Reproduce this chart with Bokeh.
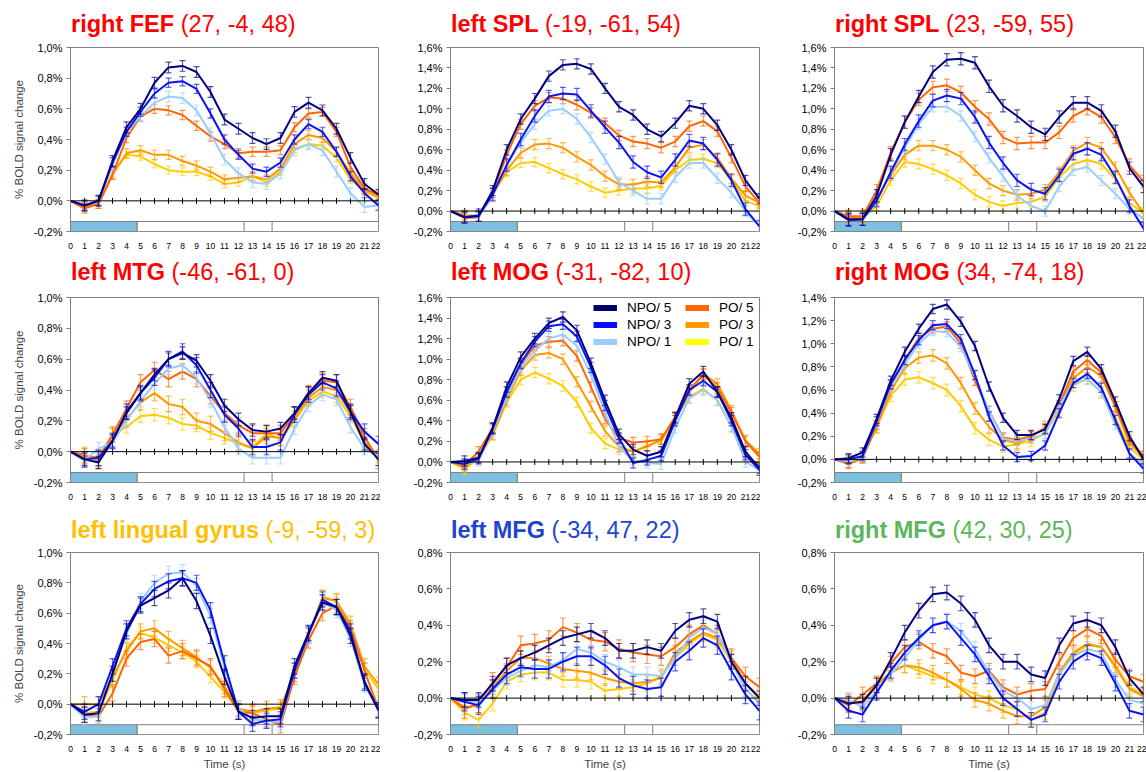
from math import pi

from bokeh.embed import file_html
from bokeh.layouts import column, row
from bokeh.models import (CustomJSTickFormatter, Div, FixedTicker, Legend,
                          LegendItem, Range1d, Span)
from bokeh.plotting import figure
from bokeh.resources import INLINE

# ---------------------------------------------------------------- data
TIME = list(range(23))                       # seconds after trial onset
SERIES = ["NPO/ 5", "NPO/ 3", "NPO/ 1", "PO/ 5", "PO/ 3", "PO/ 1"]
STIM_END = 4.75                              # end of the stimulus period
EPOCH_MARKS = [12.4, 14.4]                   # epoch boundaries on the timing bar

# right FEF
r_fef_npo5 = [0, -0.03, 0.00, 0.26, 0.48, 0.60, 0.77, 0.87, 0.88, 0.84, 0.71, 0.53, 0.47, 0.41, 0.37, 0.41, 0.58, 0.64, 0.59, 0.47, 0.28, 0.11, 0.04]
r_fef_npo3 = [0, -0.03, 0.00, 0.25, 0.45, 0.58, 0.70, 0.77, 0.78, 0.73, 0.57, 0.40, 0.30, 0.21, 0.19, 0.25, 0.40, 0.50, 0.45, 0.32, 0.16, 0.05, -0.03]
r_fef_npo1 = [0, -0.03, 0.00, 0.23, 0.45, 0.55, 0.64, 0.68, 0.67, 0.59, 0.44, 0.27, 0.18, 0.12, 0.11, 0.18, 0.33, 0.37, 0.33, 0.19, 0.05, -0.04, -0.03]
r_fef_po5 = [0, -0.05, -0.02, 0.17, 0.41, 0.55, 0.60, 0.59, 0.56, 0.49, 0.42, 0.37, 0.31, 0.32, 0.32, 0.33, 0.48, 0.57, 0.58, 0.45, 0.22, 0.08, 0.04]
r_fef_po3 = [0, -0.04, -0.02, 0.17, 0.31, 0.33, 0.30, 0.30, 0.26, 0.23, 0.19, 0.14, 0.15, 0.16, 0.14, 0.21, 0.37, 0.43, 0.41, 0.32, 0.18, 0.07, 0.03]
r_fef_po1 = [0, -0.04, -0.02, 0.18, 0.30, 0.29, 0.24, 0.20, 0.19, 0.19, 0.16, 0.11, 0.12, 0.16, 0.12, 0.19, 0.34, 0.37, 0.36, 0.28, 0.14, 0.06, 0.02]
r_fef_err = [0.035, 0.03, 0.035, 0.03, 0.03, 0.025]

# left SPL
l_spl_npo5 = [0, -0.06, -0.05, 0.20, 0.60, 0.90, 1.10, 1.32, 1.43, 1.44, 1.39, 1.20, 1.02, 0.94, 0.80, 0.73, 0.86, 1.03, 1.00, 0.84, 0.60, 0.30, 0.12]
l_spl_npo3 = [0, -0.06, -0.04, 0.16, 0.45, 0.70, 0.93, 1.12, 1.15, 1.14, 0.98, 0.82, 0.67, 0.48, 0.38, 0.33, 0.50, 0.69, 0.66, 0.50, 0.30, 0.02, -0.15]
l_spl_npo1 = [0, -0.06, -0.06, 0.15, 0.45, 0.67, 0.85, 0.98, 1.00, 0.90, 0.72, 0.51, 0.28, 0.20, 0.12, 0.12, 0.33, 0.47, 0.47, 0.32, 0.18, 0.00, -0.15]
l_spl_po5 = [0, -0.07, -0.06, 0.18, 0.55, 0.85, 1.03, 1.11, 1.10, 1.04, 0.96, 0.86, 0.74, 0.68, 0.66, 0.62, 0.68, 0.83, 0.88, 0.78, 0.52, 0.24, 0.08]
l_spl_po3 = [0, -0.04, -0.05, 0.18, 0.40, 0.57, 0.65, 0.66, 0.62, 0.53, 0.45, 0.34, 0.26, 0.26, 0.29, 0.28, 0.43, 0.62, 0.65, 0.52, 0.32, 0.15, 0.08]
l_spl_po1 = [0, -0.04, -0.06, 0.16, 0.38, 0.47, 0.48, 0.42, 0.36, 0.31, 0.24, 0.18, 0.20, 0.22, 0.22, 0.25, 0.40, 0.50, 0.51, 0.47, 0.30, 0.10, 0.05]
l_spl_err = [0.05, 0.06, 0.05, 0.05, 0.05, 0.045]

# right SPL
r_spl_npo5 = [0, -0.08, -0.08, 0.15, 0.55, 0.87, 1.12, 1.36, 1.48, 1.49, 1.45, 1.22, 1.03, 0.93, 0.82, 0.75, 0.92, 1.06, 1.06, 0.98, 0.78, 0.42, 0.24]
r_spl_npo3 = [0, -0.09, -0.08, 0.10, 0.38, 0.65, 0.88, 1.08, 1.13, 1.10, 0.92, 0.67, 0.47, 0.30, 0.21, 0.17, 0.35, 0.56, 0.61, 0.55, 0.33, 0.05, -0.17]
r_spl_npo1 = [0, -0.08, -0.09, 0.10, 0.37, 0.62, 0.85, 1.02, 1.02, 0.93, 0.73, 0.52, 0.34, 0.15, 0.05, 0.00, 0.24, 0.40, 0.43, 0.30, 0.17, 0.02, -0.07]
r_spl_po5 = [0, -0.05, -0.05, 0.20, 0.57, 0.87, 1.09, 1.21, 1.23, 1.16, 1.02, 0.90, 0.72, 0.66, 0.67, 0.67, 0.77, 0.93, 1.00, 0.92, 0.72, 0.45, 0.29]
r_spl_po3 = [0, -0.06, -0.08, 0.12, 0.35, 0.55, 0.64, 0.64, 0.60, 0.53, 0.40, 0.27, 0.20, 0.16, 0.17, 0.21, 0.38, 0.59, 0.67, 0.62, 0.43, 0.18, -0.02]
r_spl_po1 = [0, -0.06, -0.07, 0.05, 0.30, 0.48, 0.46, 0.41, 0.35, 0.27, 0.16, 0.09, 0.05, 0.08, 0.09, 0.14, 0.33, 0.46, 0.50, 0.46, 0.31, 0.08, -0.02]
r_spl_err = [0.06, 0.06, 0.05, 0.06, 0.05, 0.05]

# left MTG
l_mtg_npo5 = [0, -0.05, -0.07, 0.07, 0.25, 0.38, 0.50, 0.60, 0.64, 0.59, 0.46, 0.30, 0.21, 0.14, 0.13, 0.15, 0.25, 0.38, 0.48, 0.46, 0.26, 0.05, -0.05]
l_mtg_npo3 = [0, -0.05, -0.04, 0.07, 0.26, 0.38, 0.48, 0.60, 0.65, 0.56, 0.40, 0.24, 0.15, 0.03, 0.03, 0.06, 0.24, 0.37, 0.45, 0.41, 0.26, 0.13, 0.05]
l_mtg_npo1 = [0, -0.06, 0.02, 0.06, 0.20, 0.33, 0.44, 0.54, 0.56, 0.48, 0.33, 0.16, 0.02, -0.04, -0.04, -0.04, 0.15, 0.30, 0.37, 0.34, 0.16, 0.02, -0.03]
l_mtg_po5 = [0, -0.03, -0.04, 0.11, 0.28, 0.45, 0.53, 0.47, 0.52, 0.47, 0.36, 0.25, 0.17, 0.12, 0.12, 0.12, 0.24, 0.38, 0.46, 0.45, 0.29, 0.10, -0.06]
l_mtg_po3 = [0, -0.02, -0.06, 0.11, 0.21, 0.32, 0.38, 0.31, 0.29, 0.20, 0.18, 0.12, 0.06, 0.02, 0.10, 0.09, 0.21, 0.35, 0.42, 0.40, 0.25, 0.08, -0.04]
l_mtg_po1 = [0, -0.04, -0.06, 0.11, 0.16, 0.23, 0.24, 0.22, 0.18, 0.17, 0.12, 0.09, 0.05, 0.03, 0.12, 0.08, 0.20, 0.33, 0.39, 0.36, 0.23, 0.06, -0.04]
l_mtg_err = [0.04, 0.05, 0.04, 0.05, 0.05, 0.04]

# left MOG
l_mog_npo5 = [0, 0.01, 0.04, 0.33, 0.73, 1.02, 1.20, 1.35, 1.41, 1.28, 0.96, 0.60, 0.27, 0.12, 0.06, 0.10, 0.43, 0.76, 0.88, 0.68, 0.43, 0.10, -0.06]
l_mog_npo3 = [0, -0.02, 0.03, 0.32, 0.68, 0.96, 1.17, 1.32, 1.34, 1.22, 0.92, 0.55, 0.23, -0.01, 0.02, 0.06, 0.40, 0.70, 0.79, 0.68, 0.40, 0.07, -0.08]
l_mog_npo1 = [0, -0.02, 0.01, 0.30, 0.63, 0.92, 1.08, 1.20, 1.24, 1.13, 0.85, 0.48, 0.14, 0.02, -0.01, -0.02, 0.33, 0.62, 0.70, 0.60, 0.35, 0.00, -0.08]
l_mog_po5 = [0, -0.03, 0.10, 0.33, 0.68, 0.95, 1.13, 1.17, 1.18, 1.03, 0.73, 0.42, 0.23, 0.19, 0.20, 0.22, 0.44, 0.70, 0.85, 0.72, 0.48, 0.20, 0.05]
l_mog_po3 = [0, -0.05, 0.05, 0.27, 0.60, 0.89, 1.04, 1.06, 1.00, 0.78, 0.54, 0.30, 0.15, 0.10, 0.15, 0.22, 0.42, 0.68, 0.86, 0.76, 0.50, 0.21, 0.08]
l_mog_po1 = [0, -0.07, 0.03, 0.26, 0.58, 0.80, 0.87, 0.81, 0.74, 0.58, 0.33, 0.18, 0.12, 0.10, 0.16, 0.20, 0.43, 0.63, 0.71, 0.60, 0.34, 0.05, -0.02]
l_mog_err = [0.05, 0.05, 0.05, 0.05, 0.05, 0.05]

# right MOG
r_mog_npo5 = [0, 0.01, 0.06, 0.35, 0.68, 0.93, 1.13, 1.30, 1.34, 1.19, 0.98, 0.63, 0.36, 0.21, 0.21, 0.26, 0.52, 0.85, 0.93, 0.78, 0.50, 0.20, 0.00]
r_mog_npo3 = [0, 0.00, 0.03, 0.33, 0.65, 0.86, 1.03, 1.16, 1.17, 1.04, 0.73, 0.37, 0.12, 0.02, 0.03, 0.12, 0.40, 0.66, 0.74, 0.62, 0.34, 0.05, -0.08]
r_mog_npo1 = [0, -0.02, 0.02, 0.32, 0.63, 0.82, 1.00, 1.11, 1.10, 0.97, 0.72, 0.42, 0.18, 0.16, 0.18, 0.22, 0.46, 0.66, 0.69, 0.58, 0.30, 0.05, -0.04]
r_mog_po5 = [0, -0.04, 0.01, 0.30, 0.64, 0.86, 1.05, 1.13, 1.15, 1.00, 0.68, 0.42, 0.19, 0.17, 0.20, 0.27, 0.47, 0.76, 0.86, 0.75, 0.46, 0.17, 0.03]
r_mog_po3 = [0, -0.02, 0.02, 0.28, 0.59, 0.79, 0.88, 0.90, 0.83, 0.66, 0.44, 0.28, 0.17, 0.14, 0.19, 0.28, 0.45, 0.70, 0.80, 0.72, 0.45, 0.14, 0.02]
r_mog_po1 = [0, -0.02, 0.02, 0.28, 0.55, 0.69, 0.71, 0.66, 0.60, 0.46, 0.27, 0.17, 0.11, 0.13, 0.16, 0.23, 0.42, 0.64, 0.70, 0.58, 0.36, 0.10, 0.00]
r_mog_err = [0.04, 0.04, 0.04, 0.04, 0.05, 0.05]

# left lingual gyrus
l_lg_npo5 = [0, -0.07, -0.06, 0.20, 0.48, 0.65, 0.70, 0.75, 0.83, 0.68, 0.45, 0.18, -0.05, -0.09, -0.08, -0.08, 0.25, 0.47, 0.67, 0.64, 0.45, 0.15, -0.04]
l_lg_npo3 = [0, -0.05, 0.00, 0.25, 0.50, 0.66, 0.76, 0.81, 0.83, 0.80, 0.62, 0.27, -0.05, -0.13, -0.11, -0.10, 0.22, 0.46, 0.69, 0.64, 0.48, 0.14, -0.04]
l_lg_npo1 = [0, -0.09, -0.08, 0.20, 0.46, 0.68, 0.80, 0.86, 0.87, 0.78, 0.58, 0.24, -0.03, -0.10, -0.11, -0.12, 0.22, 0.45, 0.67, 0.62, 0.43, 0.13, -0.03]
l_lg_po5 = [0, -0.07, -0.08, 0.07, 0.30, 0.41, 0.43, 0.32, 0.35, 0.30, 0.25, 0.10, -0.05, -0.06, -0.10, -0.14, 0.18, 0.42, 0.60, 0.65, 0.50, 0.22, -0.03]
l_lg_po3 = [0, 0.00, 0.00, 0.18, 0.35, 0.48, 0.50, 0.43, 0.37, 0.31, 0.24, 0.12, -0.03, -0.05, -0.03, -0.02, 0.20, 0.45, 0.70, 0.68, 0.53, 0.25, 0.13]
l_lg_po1 = [0, -0.06, -0.05, 0.15, 0.37, 0.47, 0.44, 0.39, 0.34, 0.28, 0.18, 0.08, -0.04, -0.06, -0.04, -0.03, 0.21, 0.46, 0.71, 0.68, 0.50, 0.23, 0.10]
l_lg_err = [0.05, 0.05, 0.05, 0.05, 0.05, 0.04]

# left MFG
l_mfg_npo5 = [0, -0.01, -0.01, 0.08, 0.18, 0.22, 0.25, 0.29, 0.33, 0.35, 0.37, 0.33, 0.26, 0.26, 0.28, 0.26, 0.37, 0.43, 0.45, 0.42, 0.20, 0.08, 0.00]
l_mfg_npo3 = [0, -0.02, -0.04, 0.05, 0.13, 0.17, 0.16, 0.16, 0.20, 0.23, 0.23, 0.18, 0.11, 0.07, 0.05, 0.06, 0.20, 0.26, 0.33, 0.29, 0.15, 0.02, -0.07]
l_mfg_npo1 = [0, -0.02, -0.02, 0.04, 0.11, 0.15, 0.18, 0.17, 0.21, 0.27, 0.25, 0.20, 0.17, 0.13, 0.13, 0.12, 0.22, 0.33, 0.39, 0.35, 0.20, 0.05, -0.03]
l_mfg_po5 = [0, -0.06, -0.03, 0.09, 0.17, 0.29, 0.30, 0.32, 0.39, 0.36, 0.32, 0.31, 0.27, 0.25, 0.24, 0.23, 0.28, 0.35, 0.40, 0.35, 0.22, 0.12, 0.06]
l_mfg_po3 = [0, -0.05, -0.04, 0.06, 0.15, 0.22, 0.22, 0.19, 0.16, 0.15, 0.14, 0.11, 0.09, 0.08, 0.09, 0.11, 0.25, 0.31, 0.36, 0.33, 0.22, 0.08, 0.01]
l_mfg_po1 = [0, -0.08, -0.12, -0.03, 0.09, 0.13, 0.14, 0.14, 0.10, 0.10, 0.09, 0.04, 0.05, 0.06, 0.08, 0.12, 0.22, 0.30, 0.35, 0.32, 0.20, 0.05, -0.02]
l_mfg_err = [0.04, 0.05, 0.04, 0.05, 0.04, 0.04]

# right MFG
r_mfg_npo5 = [0, -0.03, -0.02, 0.07, 0.21, 0.36, 0.48, 0.57, 0.58, 0.52, 0.43, 0.29, 0.20, 0.20, 0.13, 0.11, 0.29, 0.41, 0.43, 0.40, 0.28, 0.11, 0.02]
r_mfg_npo3 = [0, -0.07, -0.09, 0.03, 0.15, 0.25, 0.33, 0.40, 0.42, 0.33, 0.24, 0.12, 0.00, -0.06, -0.12, -0.09, 0.09, 0.20, 0.25, 0.22, 0.08, -0.07, -0.09]
r_mfg_npo1 = [0, -0.01, -0.05, 0.04, 0.13, 0.22, 0.32, 0.40, 0.42, 0.37, 0.27, 0.14, 0.04, 0.00, -0.06, -0.04, 0.13, 0.23, 0.27, 0.25, 0.10, -0.01, -0.03]
r_mfg_po5 = [0, -0.04, 0.02, 0.08, 0.19, 0.28, 0.31, 0.26, 0.23, 0.14, 0.12, 0.15, 0.06, 0.02, 0.04, 0.05, 0.20, 0.33, 0.38, 0.34, 0.21, 0.12, 0.09]
r_mfg_po3 = [0, -0.02, -0.03, 0.07, 0.14, 0.18, 0.17, 0.14, 0.10, 0.05, -0.01, -0.03, -0.07, -0.10, -0.10, -0.05, 0.14, 0.25, 0.30, 0.28, 0.17, 0.05, 0.01]
r_mfg_po1 = [0, -0.02, -0.02, 0.08, 0.14, 0.18, 0.15, 0.12, 0.10, 0.06, 0.02, 0.00, -0.04, -0.06, -0.12, -0.08, 0.13, 0.24, 0.29, 0.28, 0.18, 0.06, 0.02]
r_mfg_err = [0.04, 0.04, 0.04, 0.04, 0.04, 0.04]

# ---------------------------------------------------------------- styling
FONT = "Liberation Sans"
LINE_COLORS = ["#000080", "#0A14F0", "#99CCFF", "#FF6600", "#FF9900", "#FFCC00"]
KEY_COLORS = ["#000070", "#0A0AFF", "#99CCFF", "#FF6600", "#FF9900", "#FFFF00"]
RED, GOLD, BLUE, GREEN = "#FF0000", "#FFC000", "#1F45D0", "#5DB55D"
GRAY = "#808080"
BAR_BLUE = "#7DBFDF"

PANELS = [
    ("right FEF", "(27, -4, 48)", RED, 1.0,
     [r_fef_npo5, r_fef_npo3, r_fef_npo1, r_fef_po5, r_fef_po3, r_fef_po1], r_fef_err),
    ("left SPL", "(-19, -61, 54)", RED, 1.6,
     [l_spl_npo5, l_spl_npo3, l_spl_npo1, l_spl_po5, l_spl_po3, l_spl_po1], l_spl_err),
    ("right SPL", "(23, -59, 55)", RED, 1.6,
     [r_spl_npo5, r_spl_npo3, r_spl_npo1, r_spl_po5, r_spl_po3, r_spl_po1], r_spl_err),
    ("left MTG", "(-46, -61, 0)", RED, 1.0,
     [l_mtg_npo5, l_mtg_npo3, l_mtg_npo1, l_mtg_po5, l_mtg_po3, l_mtg_po1], l_mtg_err),
    ("left MOG", "(-31, -82, 10)", RED, 1.6,
     [l_mog_npo5, l_mog_npo3, l_mog_npo1, l_mog_po5, l_mog_po3, l_mog_po1], l_mog_err),
    ("right MOG", "(34, -74, 18)", RED, 1.4,
     [r_mog_npo5, r_mog_npo3, r_mog_npo1, r_mog_po5, r_mog_po3, r_mog_po1], r_mog_err),
    ("left lingual gyrus", "(-9, -59, 3)", GOLD, 1.0,
     [l_lg_npo5, l_lg_npo3, l_lg_npo1, l_lg_po5, l_lg_po3, l_lg_po1], l_lg_err),
    ("left MFG", "(-34, 47, 22)", BLUE, 0.8,
     [l_mfg_npo5, l_mfg_npo3, l_mfg_npo1, l_mfg_po5, l_mfg_po3, l_mfg_po1], l_mfg_err),
    ("right MFG", "(42, 30, 25)", GREEN, 0.8,
     [r_mfg_npo5, r_mfg_npo3, r_mfg_npo1, r_mfg_po5, r_mfg_po3, r_mfg_po1], r_mfg_err),
]

# grid geometry (outer size and borders around each plot frame)
COL_W = [380, 380, 386]
COL_LEFT = [70, 70, 74]
COL_RIGHT = [2, 1, 3]
ROW_H = [255, 255, 262]
ROW_TOP = [47, 42, 42]
ROW_BOTTOM = [24, 28, 34]
TITLE_GAP = [14.5, 16, 13]       # title baseline height above the frame
PLOT_TOP = 8                     # room kept above the frame for the top tick label
TITLE_SIZE = 23.5
TITLE_LINE = 27
BAR_PX = 10

PCT = CustomJSTickFormatter(code="return tick.toFixed(1).replace('.', ',') + '%';")


def make_title(idx):
    name, coords, tcolor = PANELS[idx][:3]
    r, c = divmod(idx, 3)
    h = ROW_TOP[r] - PLOT_TOP
    # baseline sits ascent + half-leading below the top of the line box
    ascent = 0.905 * TITLE_SIZE + (TITLE_LINE - 1.117 * TITLE_SIZE) / 2
    pad_top = (ROW_TOP[r] - TITLE_GAP[r]) - ascent
    html = (f'<div style="margin:0; padding:{pad_top:.1f}px 0 0 {COL_LEFT[c] + 1}px; '
            f'font-family:\'{FONT}\'; font-size:{TITLE_SIZE}px; line-height:{TITLE_LINE}px; '
            f'color:{tcolor}; white-space:nowrap;">'
            f'<span style="font-weight:bold">{name}</span> {coords}</div>')
    return Div(text=html, width=COL_W[c], height=h, margin=0)


def make_panel(idx):
    name, coords, tcolor, ymax, series, err = PANELS[idx]
    r, c = divmod(idx, 3)
    W = COL_W[c]
    H = ROW_H[r] - ROW_TOP[r] + PLOT_TOP
    frame_h = H - PLOT_TOP - ROW_BOTTOM[r]
    ymin = -0.2

    p = figure(width=W, height=H, output_backend="svg", toolbar_location=None,
               x_range=Range1d(0, 22), y_range=Range1d(ymin, ymax),
               min_border_left=COL_LEFT[c], min_border_right=COL_RIGHT[c],
               min_border_top=PLOT_TOP, min_border_bottom=ROW_BOTTOM[r], margin=0)
    p.title.visible = False
    p.xgrid.visible = False
    p.ygrid.visible = False
    p.background_fill_color = "white"
    p.border_fill_color = "white"
    p.outline_line_color = GRAY

    # axes
    p.xaxis.ticker = FixedTicker(ticks=TIME)
    p.xaxis.axis_line_color = None
    p.xaxis.major_tick_line_color = None
    p.xaxis.minor_tick_line_color = None
    p.xaxis.major_label_standoff = 5
    p.xaxis.major_label_text_font = FONT
    p.xaxis.major_label_text_font_size = "8.5px"
    p.xaxis.major_label_text_color = "#000000"
    if r == 2:
        p.xaxis.axis_label = "Time (s)"
        p.xaxis.axis_label_text_font = FONT
        p.xaxis.axis_label_text_font_size = "11.5px"
        p.xaxis.axis_label_text_font_style = "normal"
        p.xaxis.axis_label_standoff = 3

    nt = int(round((ymax - ymin) / 0.2)) + 1
    p.yaxis.ticker = FixedTicker(ticks=[round(ymin + 0.2 * k, 1) for k in range(nt)])
    p.yaxis.formatter = PCT
    p.yaxis.axis_line_color = GRAY
    p.yaxis.major_tick_line_color = GRAY
    p.yaxis.major_tick_out = 4
    p.yaxis.major_tick_in = 0
    p.yaxis.minor_tick_line_color = None
    p.yaxis.major_label_standoff = 4
    p.yaxis.major_label_text_font = FONT
    p.yaxis.major_label_text_font_size = "11px"
    p.yaxis.major_label_text_color = "#000000"
    if c == 0:
        p.yaxis.axis_label = "% BOLD signal change"
        p.yaxis.axis_label_text_font = FONT
        p.yaxis.axis_label_text_font_size = "11.5px"
        p.yaxis.axis_label_text_font_style = "normal"
        p.yaxis.axis_label_standoff = 6

    # timing bar along the bottom of the frame
    bar_top = ymin + BAR_PX * (ymax - ymin) / frame_h
    p.quad(left=[STIM_END], right=[TIME[-1]], bottom=[ymin], top=[bar_top],
           fill_color="white", line_color=GRAY, line_width=1)
    p.quad(left=[TIME[0]], right=[STIM_END], bottom=[ymin], top=[bar_top],
           fill_color=BAR_BLUE, line_color=GRAY, line_width=1)
    p.segment(x0=EPOCH_MARKS, y0=[ymin] * len(EPOCH_MARKS),
              x1=EPOCH_MARKS, y1=[bar_top] * len(EPOCH_MARKS),
              line_color=GRAY, line_width=1)

    # baseline with its tick marks
    p.add_layout(Span(location=0, dimension="width", line_color="black", line_width=1))
    p.scatter(x=TIME[1:-1], y=[0] * (len(TIME) - 2), marker="dash", angle=pi / 2,
              size=6, line_color="black", line_width=1)

    # series: error bars first, then the mean time course; NPO/5 ends on top
    for k in reversed(range(len(SERIES))):
        vals = series[k]
        e = err[k]
        col = LINE_COLORS[k]
        tx = TIME[1:]
        lo = [v - e for v in vals[1:]]
        hi = [v + e for v in vals[1:]]
        p.segment(x0=tx, y0=lo, x1=tx, y1=hi, line_color=col, line_alpha=0.65, line_width=1.2)
        p.scatter(x=tx + tx, y=lo + hi, marker="dash", size=6,
                  line_color=col, line_alpha=0.65, line_width=1.2)
        p.line(TIME, vals, line_color=col, line_width=2)
    return p, frame_h


def add_key(p, frame_h):
    # swatch-only renderers: NaN points draw nothing in the frame
    nan = float("nan")
    swatches = [p.line(x=[nan, nan], y=[nan, nan], line_color=KEY_COLORS[k], line_width=6)
                for k in range(len(SERIES))]
    rows_h, pad = 17, 2
    key_h = 3 * rows_h + 2 * pad
    for start, x in ((0, 141), (3, 233)):
        items = [LegendItem(label=SERIES[k], renderers=[swatches[k]])
                 for k in range(start, start + 3)]
        leg = Legend(items=items, location=(x, frame_h - key_h), orientation="vertical",
                     glyph_width=24, glyph_height=rows_h, label_height=rows_h,
                     label_standoff=10, spacing=0, padding=pad, margin=0,
                     label_text_font=FONT, label_text_font_size="13.5px",
                     label_text_color="#000000",
                     border_line_alpha=0, background_fill_alpha=0)
        p.add_layout(leg)


cells = []
for i in range(9):
    fig, fh = make_panel(i)
    if i == 4:
        add_key(fig, fh)
    cells.append(column(make_title(i), fig, spacing=0))

layout = column(row(*cells[0:3], spacing=0), row(*cells[3:6], spacing=0),
                row(*cells[6:9], spacing=0), spacing=0)

open("out.html", "w").write(file_html(layout, INLINE, "BOLD time courses"))
